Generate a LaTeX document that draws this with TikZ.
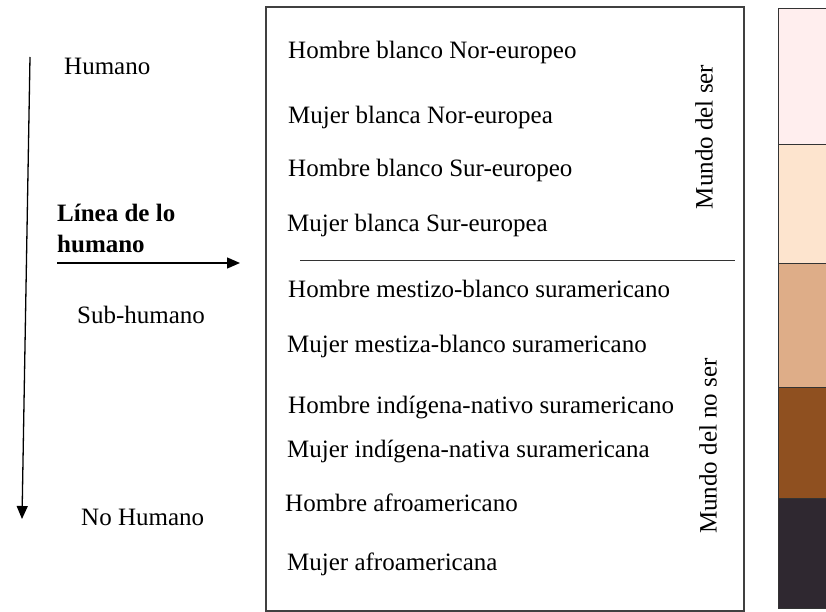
\documentclass[tikz,border=0pt]{standalone}
\usepackage{fontspec}
\setmainfont{Liberation Serif}
\usetikzlibrary{arrows.meta}
\definecolor{cpink}{HTML}{FFEEEE}
\definecolor{cpeach}{HTML}{FDE4CE}
\definecolor{ctan}{HTML}{DEAD88}
\definecolor{cbrown}{HTML}{8F5020}
\definecolor{cdark}{HTML}{2F2830}
\begin{document}
\begin{tikzpicture}[x=1pt,y=-1pt,
  lbl/.style={anchor=base west,inner sep=0pt,font=\fontsize{25}{30}\selectfont},
  vlbl/.style={anchor=center,inner sep=0pt,rotate=90,font=\fontsize{25}{30}\selectfont},
  frame/.style={draw=black!75,line width=1.1pt},
  band/.style={draw=black!80,line width=1pt},
  arr/.style={-{Triangle[length=13pt,width=11pt]},line width=1.3pt}]
\useasboundingbox (0,0) rectangle (826,612);
% main box
\draw[frame] (266,7) rectangle (744,611);
\draw[line width=1pt,black!80] (300,260) -- (735,260);
% colour bar
\fill[cpink] (778,9) rectangle (830,145);
\fill[cpeach] (778,145) rectangle (830,263);
\fill[ctan] (778,263) rectangle (830,387);
\fill[cbrown] (778,387) rectangle (830,498);
\fill[cdark] (778,498) rectangle (830,608);
\draw[band] (830,9) -- (778,9) -- (778,608) -- (830,608);
\draw[band] (778,145) -- (830,145);
\draw[band] (778,263) -- (830,263);
\draw[band] (778,387) -- (830,387);
\draw[band] (778,498) -- (830,498);
% left arrows
\coordinate (vtop) at (30,57);
\coordinate (vbot) at (22,519);
\draw[arr] (vtop) -- (vbot);
\coordinate (hstart) at (57,263);
\coordinate (hend) at (240,263);
\draw[arr] (hstart) -- (hend);
% left labels
\node[lbl] (hum) at (64,75) {Humano};
\node[lbl,font=\fontsize{25}{30}\selectfont\bfseries] (lin1) at (57,222) {Línea de lo};
\node[lbl,font=\fontsize{25}{30}\selectfont\bfseries] (lin2) at (57,252) {humano};
\node[lbl] (sub) at (77,323) {Sub-humano};
\node[lbl] (noh) at (81,525) {No Humano};
% box items
\node[lbl] (t1) at (288,59) {Hombre blanco Nor-europeo};
\node[lbl] (t2) at (288,124) {Mujer blanca Nor-europea};
\node[lbl] (t3) at (288,177) {Hombre blanco Sur-europeo};
\node[lbl] (t4) at (287,231) {Mujer blanca Sur-europea};
\node[lbl] (t5) at (288,297) {Hombre mestizo-blanco suramericano};
\node[lbl] (t6) at (287,352) {Mujer mestiza-blanco suramericano};
\node[lbl] (t7) at (288,413) {Hombre indígena-nativo suramericano};
\node[lbl] (t8) at (287,457) {Mujer indígena-nativa suramericana};
\node[lbl] (t9) at (285,511) {Hombre afroamericano};
\node[lbl] (t10) at (287,570) {Mujer afroamericana};
% vertical labels
\node[vlbl] (ser) at (704,137) {Mundo del ser};
\node[vlbl] (noser) at (708,446) {Mundo del no ser};
\end{tikzpicture}
\end{document}
